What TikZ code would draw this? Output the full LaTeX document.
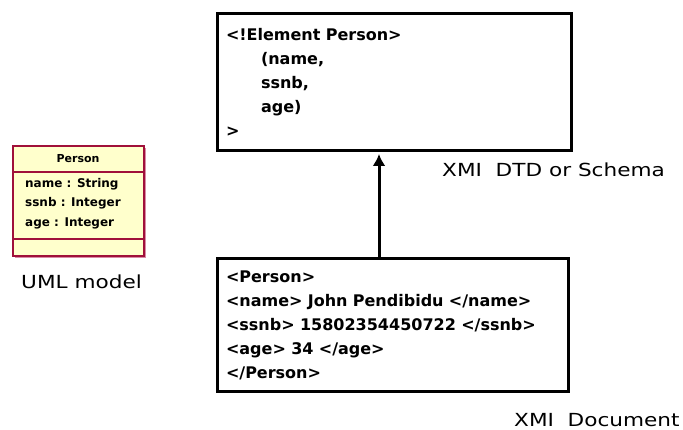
\documentclass[tikz,border=0pt]{standalone}
\usepackage{fontspec}
\setmainfont{DejaVu Sans}
\newfontfamily\labelfont[FakeStretch=1.2]{DejaVu Sans}
\usepackage{xcolor}
\usetikzlibrary{arrows, arrows.meta, positioning, calc}
\definecolor{classfill}{HTML}{FFFFCC}
\definecolor{classline}{HTML}{A0103A}
\definecolor{classshade}{HTML}{D98BA5}
\newcommand\xmlfont{\bfseries\fontsize{16}{24}\selectfont\spaceskip=9pt\relax}
\tikzstyle{xmlbox} = [draw, line width=3pt, rectangle, align=left, inner xsep=9pt, inner ysep=0pt, font=\xmlfont]
\tikzstyle{caption} = [inner sep=0pt, anchor=base west, font=\labelfont\fontsize{18}{22}\selectfont]
\tikzstyle{attr} = [inner sep=0pt, anchor=base west, font=\bfseries\fontsize{12}{14}\selectfont]

\begin{document}
\begin{tikzpicture}[x=1pt, y=-1pt, >=latex]
    \useasboundingbox (0,0) rectangle (683,430);

    % The UML class
    \fill [classshade] (15,148) rectangle (146,258);
    \node (person) [draw=classline, fill=classfill, line width=1.2pt, inner sep=0pt,
        minimum width=131, minimum height=110] at (78.5,201) {};
    \draw [classline, line width=1.2pt] (person.west |- 0,172) -- (person.east |- 0,172);
    \draw [classline, line width=1.2pt] (person.west |- 0,239) -- (person.east |- 0,239);
    \node (classname) [inner sep=0pt, font=\bfseries\fontsize{11}{13}\selectfont] at (78,159) {Person};
    \node (name) [attr] at (25,187.5) {name : String};
    \node (ssnb) [attr] at (25,206.5) {ssnb : Integer};
    \node (age) [attr] at (25,226.5) {age : Integer};
    \node (uml) [caption] at (21,289) {UML model};

    % The DTD and the document
    \node (dtd) [xmlbox, text width=336, minimum height=137] at (394,82.5)
        {<!Element Person>\\ \hspace*{35pt}(name,\\ \hspace*{35pt}ssnb,\\ \hspace*{35pt}age)\\ >};
    \node (doc) [xmlbox, text width=333, minimum height=132] at (392.5,325)
        {<Person>\\ <name> John Pendibidu </name>\\ <ssnb> 15802354450722 </ssnb>\\ <age> 34 </age>\\ </Person>};

    \coordinate (tail) at (379,0);
    \draw [-{Latex[length=12pt, width=13pt]}, line width=3pt, shorten >=1.5pt] (doc.north -| tail) -- (dtd.south -| tail);

    % Captions
    \node (schema) [caption] at (442,177) {XMI\ \ DTD or Schema};
    \node (document) [caption] at (514,426) {XMI\ \ Document};

\end{tikzpicture}
\end{document}
